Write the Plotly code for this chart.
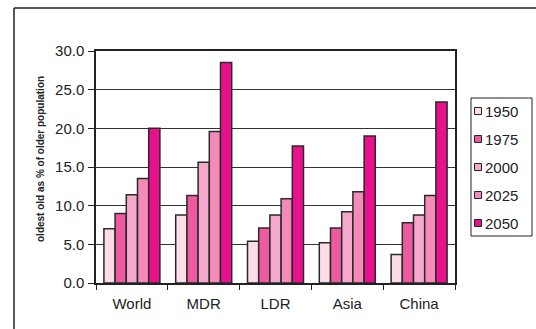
import plotly.graph_objects as go

categories = ["World", "MDR", "LDR", "Asia", "China"]
years = ["1950", "1975", "2000", "2025", "2050"]
values = {
    "1950": [7.0, 8.8, 5.4, 5.2, 3.7],
    "1975": [9.0, 11.3, 7.1, 7.1, 7.8],
    "2000": [11.4, 15.6, 8.8, 9.2, 8.8],
    "2025": [13.5, 19.6, 10.9, 11.8, 11.3],
    "2050": [20.0, 28.5, 17.7, 19.0, 23.4],
}
colors = {
    "1950": "#FCDCE8",
    "1975": "#EE5A9E",
    "2000": "#F6A8CC",
    "2025": "#F48AB8",
    "2050": "#E8108C",
}
y_ticks = [0, 5, 10, 15, 20, 25, 30]
y_title = "oldest old as % of older population"

fig = go.Figure()
for yr in years:
    fig.add_trace(go.Bar(
        x=categories, y=values[yr], name=yr, showlegend=False,
        marker=dict(color=colors[yr], line=dict(color="#2a2a2a", width=1.5)),
    ))

W, H = 536, 329
L, R, T, B = 96, 81, 51, 46
pw, ph = W - L - R, H - T - B

def px(x):
    return (x - L) / pw

def py(y):
    return (H - B - y) / ph

FONT = "Liberation Sans, Arial, sans-serif"

fig.update_layout(
    width=W, height=H,
    margin=dict(l=L, r=R, t=T, b=B),
    paper_bgcolor="white", plot_bgcolor="white",
    barmode="group", bargap=0.22, bargroupgap=0,
    showlegend=False,
    font=dict(family=FONT, color="#222", size=15),
    xaxis=dict(
        showline=True, linecolor="#222", linewidth=1.5, mirror=True,
        ticks="outside", tickson="boundaries", ticklen=5, tickcolor="#222",
        tickfont=dict(size=15), showgrid=False, ticklabelstandoff=6,
    ),
    yaxis=dict(
        range=[0, 30], tickvals=y_ticks, tickformat=".1f",
        showline=True, linecolor="#222", linewidth=1.5, mirror=True,
        ticks="outside", ticklen=6, tickcolor="#222",
        showgrid=True, gridcolor="#333", gridwidth=1,
        tickfont=dict(size=15), ticklabelstandoff=1,
    ),
)

# y-axis title
fig.add_annotation(xref="paper", yref="paper", x=px(40), y=py(159),
                   xanchor="center", yanchor="middle", textangle=-90,
                   text="<b>" + y_title + "</b>", showarrow=False,
                   font=dict(size=10, family=FONT, color="#222"))

# outer frame (top and left edges visible)
fig.add_shape(type="line", xref="paper", yref="paper",
              x0=px(14), x1=px(W + 20), y0=py(8), y1=py(8),
              line=dict(color="#222", width=1.5))
fig.add_shape(type="line", xref="paper", yref="paper",
              x0=px(14), x1=px(14), y0=py(8), y1=py(H + 20),
              line=dict(color="#222", width=1.5))

# legend box
fig.add_shape(type="rect", xref="paper", yref="paper",
              x0=px(471), x1=px(532), y0=py(98), y1=py(236),
              line=dict(color="#222", width=1), fillcolor="white")
for i, yr in enumerate(years):
    cy = 111 + 28 * i
    fig.add_shape(type="rect", xref="paper", yref="paper",
                  x0=px(474.5), x1=px(481.5), y0=py(cy - 3.5), y1=py(cy + 3.5),
                  line=dict(color="#222", width=1), fillcolor=colors[yr])
    fig.add_annotation(xref="paper", yref="paper", x=px(483), y=py(cy),
                       xanchor="left", yanchor="middle", text=yr,
                       showarrow=False, font=dict(size=15, family=FONT, color="#222"))

fig.write_html("out.html")
